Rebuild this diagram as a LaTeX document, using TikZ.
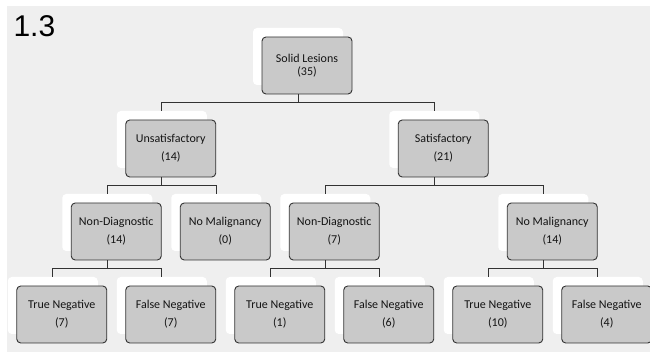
\documentclass[tikz,border=0pt]{standalone}
\usepackage{fontspec}
\setmainfont{Carlito}
\newfontfamily\labelfont{Liberation Sans}
\usepackage{tikz}
\usetikzlibrary{positioning,shadows}

\definecolor{bggray}{RGB}{239,239,239}
\definecolor{boxgray}{RGB}{201,201,201}
\definecolor{edgegray}{RGB}{50,50,50}

\begin{document}
\begin{tikzpicture}[x=1pt, y=1pt, node distance=83pt and 54.5pt, on grid,
    box/.style={draw=edgegray, line width=0.9pt, fill=boxgray, rounded corners=4pt,
      minimum width=90pt, minimum height=57pt, inner sep=0pt, align=center,
      text=black!92, font=\fontsize{12}{18}\selectfont,
      general shadow={fill=white, shadow xshift=-9pt, shadow yshift=9pt}},
    link/.style={draw=edgegray, line width=0.9pt}]
    \useasboundingbox (0,0) rectangle (650,358);
    \fill[bggray] (7,6) rectangle (650,352);
    \node[anchor=base west, font=\labelfont\fontsize{30}{30}\selectfont] (title) at (10,321) {1.3};

    \node[box, font=\fontsize{12}{13}\selectfont] (root) at (307,292.5) {Solid Lesions\\(35)};
    \node[box, below left=83pt and 136.25pt of root] (unsat) {Unsatisfactory\\(14)};
    \node[box, below right=83pt and 136.25pt of root] (sat) {Satisfactory\\(21)};
    \node[box, below left=of unsat] (nd1) {Non-Diagnostic\\(14)};
    \node[box, below right=of unsat] (nm1) {No Malignancy\\(0)};
    \node[box, below left=83pt and 109pt of sat] (nd2) {Non-Diagnostic\\(7)};
    \node[box, below right=83pt and 109pt of sat] (nm2) {No Malignancy\\(14)};
    \node[box, below left=of nd1] (tn1) {True Negative\\(7)};
    \node[box, below right=of nd1] (fn1) {False Negative\\(7)};
    \node[box, below left=of nd2] (tn2) {True Negative\\(1)};
    \node[box, below right=of nd2] (fn2) {False Negative\\(6)};
    \node[box, below left=of nm2] (tn3) {True Negative\\(10)};
    \node[box, below right=of nm2] (fn3) {False Negative\\(4)};

    % elbow connectors, parent to child
    \foreach \p/\c in {root/unsat, root/sat, unsat/nd1, unsat/nm1, sat/nd2, sat/nm2,
        nd1/tn1, nd1/fn1, nd2/tn2, nd2/fn2, nm2/tn3, nm2/fn3}
      \draw[link] ([xshift=-9pt]\p.south) -- ++(0,-8) -| ([shift={(-9pt,9pt)}]\c.north);
\end{tikzpicture}
\end{document}
